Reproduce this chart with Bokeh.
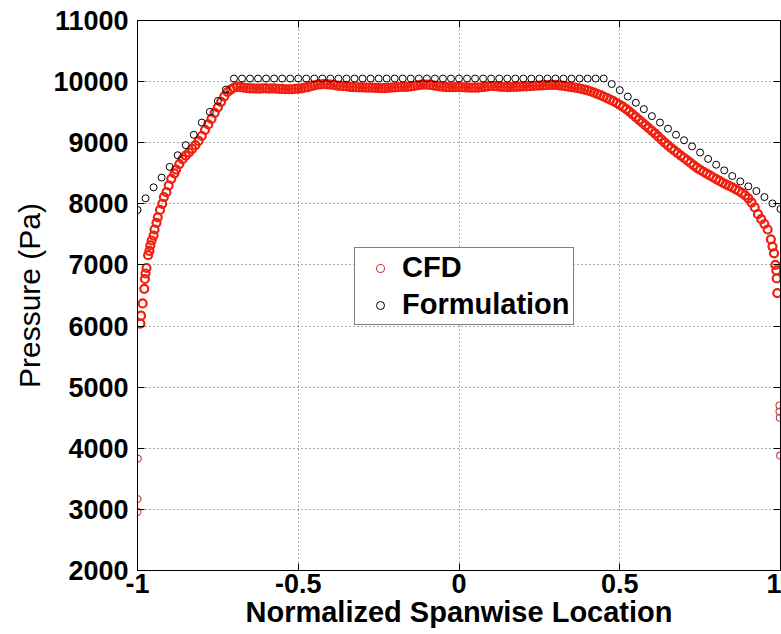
from bokeh.plotting import figure
from bokeh.models import LinearAxis, Legend, LegendItem, FixedTicker, Range1d
from bokeh.embed import file_html
from bokeh.resources import INLINE

# ---------------- data ----------------
x_ticks = [-1, -0.5, 0, 0.5, 1]
x_tick_labels = ["-1", "-0.5", "0", "0.5", "1"]
y_ticks = [2000, 3000, 4000, 5000, 6000, 7000, 8000, 9000, 10000, 11000]

# CFD (red circles)
cfd_x = [
    -1.0, -1.0, -0.999, -0.991, -0.989, -0.984, -0.979, -0.977, -0.975, -0.972,
    -0.967, -0.963, -0.96, -0.956, -0.95, -0.947, -0.941, -0.937, -0.93, -0.923,
    -0.918, -0.91, -0.903, -0.895, -0.885,
    -0.88, -0.87, -0.86, -0.85, -0.84, -0.83, -0.82, -0.81, -0.80, -0.79,
    -0.78, -0.77, -0.76, -0.75, -0.74, -0.73, -0.72, -0.71, -0.70, -0.69,
    -0.68, -0.67, -0.66, -0.65, -0.64, -0.63, -0.62, -0.61, -0.60, -0.59,
    -0.58, -0.57, -0.56, -0.55, -0.54, -0.53, -0.52, -0.51, -0.50, -0.49,
    -0.48, -0.47, -0.46, -0.45, -0.44, -0.43, -0.42, -0.41, -0.40, -0.39,
    -0.38, -0.37, -0.36, -0.35, -0.34, -0.33, -0.32, -0.31, -0.30, -0.29,
    -0.28, -0.27, -0.26, -0.25, -0.24, -0.23, -0.22, -0.21, -0.20, -0.19,
    -0.18, -0.17, -0.16, -0.15, -0.14, -0.13, -0.12, -0.11, -0.10, -0.09,
    -0.08, -0.07, -0.06, -0.05, -0.04, -0.03, -0.02, -0.01, 0.00, 0.01,
    0.02, 0.03, 0.04, 0.05, 0.06, 0.07, 0.08, 0.09, 0.10, 0.11,
    0.12, 0.13, 0.14, 0.15, 0.16, 0.17, 0.18, 0.19, 0.20, 0.21,
    0.22, 0.23, 0.24, 0.25, 0.26, 0.27, 0.28, 0.29, 0.30, 0.31,
    0.32, 0.33, 0.34, 0.35, 0.36, 0.37, 0.38, 0.39, 0.40, 0.41,
    0.42, 0.43, 0.44, 0.45, 0.46, 0.47, 0.48, 0.49, 0.50, 0.51,
    0.52, 0.53, 0.54, 0.55, 0.56, 0.57, 0.58, 0.59, 0.60, 0.61,
    0.62, 0.63, 0.64, 0.65, 0.66, 0.67, 0.68, 0.69, 0.70, 0.71,
    0.72, 0.73, 0.74, 0.75, 0.76, 0.77, 0.78, 0.79, 0.80, 0.81,
    0.82, 0.83, 0.84, 0.85, 0.86, 0.87, 0.88, 0.89, 0.90, 0.91,
    0.92, 0.93, 0.94, 0.95, 0.96, 0.97, 0.975, 0.98, 0.984, 0.987,
    0.988, 0.990, 0.997, 0.997, 0.998, 0.999,
]
cfd_p = [
    2960, 3170, 3830, 6040, 6170, 6370, 6610, 6770, 6860, 6950,
    7160, 7230, 7320, 7400, 7480, 7580, 7690, 7780, 7900, 8000,
    8110, 8190, 8300, 8410, 8500,
    8560, 8650, 8730, 8790, 8840, 8900, 8960, 9030, 9110, 9210,
    9300, 9390, 9490, 9580, 9670, 9760, 9830, 9870, 9900, 9915,
    9910, 9900, 9895, 9890, 9890, 9885, 9885, 9890, 9890, 9885,
    9890, 9885, 9880, 9880, 9875, 9875, 9875, 9880, 9885, 9890,
    9900, 9910, 9925, 9940, 9950, 9955, 9958, 9955, 9950, 9945,
    9935, 9930, 9925, 9920, 9915, 9910, 9908, 9905, 9905, 9902,
    9900, 9900, 9898, 9895, 9895, 9895, 9898, 9900, 9905, 9910,
    9912, 9915, 9915, 9920, 9930, 9940, 9948, 9952, 9950, 9945,
    9938, 9930, 9922, 9915, 9910, 9908, 9908, 9910, 9910, 9908,
    9905, 9902, 9900, 9900, 9902, 9908, 9915, 9922, 9928, 9925,
    9920, 9915, 9912, 9910, 9910, 9912, 9915, 9918, 9920, 9922,
    9925, 9928, 9932, 9936, 9940, 9944, 9947, 9948, 9945, 9940,
    9933, 9925, 9918, 9910, 9902, 9893, 9882, 9870, 9855, 9838,
    9820, 9800, 9780, 9755, 9730, 9705, 9680, 9650, 9620, 9585,
    9550, 9510, 9465, 9420, 9375, 9330, 9285, 9240, 9195, 9150,
    9100, 9050, 9000, 8955, 8910, 8870, 8830, 8790, 8750, 8710,
    8670, 8630, 8590, 8555, 8525, 8495, 8465, 8435, 8405, 8375,
    8345, 8320, 8295, 8270, 8240, 8210, 8180, 8140, 8090, 8020,
    7940, 7830, 7750, 7670, 7580, 7420, 7300, 7190, 7000, 6910,
    6780, 6540, 4700, 4600, 4500, 3880,
]

# Formulation (black circles)
form_x = [
    -1.0, -0.975, -0.95, -0.925, -0.9, -0.875, -0.85, -0.825, -0.8, -0.775,
    -0.75, -0.725, -0.7, -0.675, -0.65, -0.625, -0.6, -0.575, -0.55, -0.525,
    -0.5, -0.475, -0.45, -0.425, -0.4, -0.375, -0.35, -0.325, -0.3, -0.275,
    -0.25, -0.225, -0.2, -0.175, -0.15, -0.125, -0.1, -0.075, -0.05, -0.025,
    0.0, 0.025, 0.05, 0.075, 0.1, 0.125, 0.15, 0.175, 0.2, 0.225,
    0.25, 0.275, 0.3, 0.325, 0.35, 0.375, 0.4, 0.425, 0.45, 0.475,
    0.5, 0.525, 0.55, 0.575, 0.6, 0.625, 0.65, 0.675, 0.7, 0.725,
    0.75, 0.775, 0.8, 0.825, 0.85, 0.875, 0.9, 0.925, 0.95, 0.975,
    1.0,
]
form_p = [
    7900, 8090, 8270, 8430, 8605, 8795, 8960, 9130, 9330, 9505,
    9685, 9870, 10050, 10050, 10050, 10050, 10050, 10050, 10050, 10050,
    10050, 10050, 10050, 10050, 10050, 10050, 10050, 10050, 10050, 10050,
    10050, 10050, 10050, 10050, 10050, 10050, 10050, 10050, 10050, 10050,
    10050, 10050, 10050, 10050, 10050, 10050, 10050, 10050, 10050, 10050,
    10050, 10050, 10050, 10050, 10050, 10050, 10050, 10050, 10050, 9960,
    9860, 9755, 9655, 9550, 9435, 9330, 9230, 9130, 9040, 8940,
    8840, 8735, 8640, 8548, 8455, 8367, 8286, 8210, 8111, 8006,
    7915,
]

FONT = "Liberation Sans"
RED = "#f02010"

p = figure(
    width=781, height=634, output_backend="svg", toolbar_location=None,
    x_range=Range1d(-1, 1), y_range=Range1d(2000, 11000),
    min_border_left=137, min_border_right=1, min_border_top=20, min_border_bottom=64,
    background_fill_color="white", border_fill_color="white",
)
p.outline_line_color = "black"
p.outline_line_width = 1

xt = FixedTicker(ticks=x_ticks)
yt = FixedTicker(ticks=y_ticks)

for ax in (p.xaxis[0], p.yaxis[0]):
    ax.axis_line_color = "black"
    ax.major_tick_line_color = "black"
    ax.major_tick_in = 7
    ax.major_tick_out = 0
    ax.minor_tick_line_color = None
    ax.major_label_text_font = FONT
    ax.major_label_text_font_style = "bold"
    ax.major_label_text_font_size = "27px"
    ax.major_label_text_color = "black"
    ax.axis_label_text_color = "black"

p.xaxis[0].ticker = xt
p.xaxis[0].major_label_overrides = {t: s for t, s in zip(x_ticks, x_tick_labels)}
p.xaxis[0].major_label_standoff = 3
p.xaxis[0].axis_label = "Normalized Spanwise Location"
p.xaxis[0].axis_label_text_font = FONT
p.xaxis[0].axis_label_text_font_style = "bold"
p.xaxis[0].axis_label_text_font_size = "29px"
p.xaxis[0].axis_label_standoff = 0

p.yaxis[0].ticker = yt
p.yaxis[0].major_label_standoff = 9
p.yaxis[0].axis_label = "Pressure (Pa)"
p.yaxis[0].axis_label_text_font = FONT
p.yaxis[0].axis_label_text_font_style = "normal"
p.yaxis[0].axis_label_text_font_size = "30px"
p.yaxis[0].axis_label_standoff = 4

for loc, tk in (("right", yt), ("above", xt)):
    ax = LinearAxis(ticker=tk)
    ax.axis_line_color = "black"
    ax.major_tick_line_color = "black"
    ax.major_tick_in = 7
    ax.major_tick_out = 0
    ax.minor_tick_line_color = None
    ax.major_label_text_color = None
    ax.major_label_standoff = 0
    p.add_layout(ax, loc)

for g, tk in ((p.xgrid[0], xt), (p.ygrid[0], yt)):
    g.ticker = tk
    g.grid_line_color = "#555555"
    g.grid_line_dash = "1 3"
    g.grid_line_width = 1

# dense part of the CFD series drawn heavier so overlapping rings merge into a band,
# sparse end points drawn thin (same lists, split by index)
n_lo, n_hi = 3, len(cfd_x) - 4
r_cfd = p.scatter(cfd_x[n_lo:n_hi], cfd_p[n_lo:n_hi], marker="circle", size=8,
                  fill_color=None, line_color=RED, line_width=2.2)
r_cfd_sparse = p.scatter(cfd_x[:n_lo] + cfd_x[n_hi:], cfd_p[:n_lo] + cfd_p[n_hi:],
                         marker="circle", size=7, fill_color=None,
                         line_color="#c84040", line_width=1.1)
r_form = p.scatter(form_x, form_p, marker="circle", size=7, fill_color=None,
                   line_color="black", line_width=1)

legend = Legend(
    items=[LegendItem(label="CFD", renderers=[r_cfd_sparse]),
           LegendItem(label="Formulation", renderers=[r_form])],
    location=(217, 245),
    label_text_font=FONT, label_text_font_style="bold", label_text_font_size="29px",
    label_text_color="black",
    border_line_color="black", border_line_width=1,
    background_fill_color="white", background_fill_alpha=1,
    padding=3, spacing=4, glyph_width=44, label_standoff=0, margin=0,
)
p.add_layout(legend)

open("out.html", "w").write(file_html(p, INLINE))
